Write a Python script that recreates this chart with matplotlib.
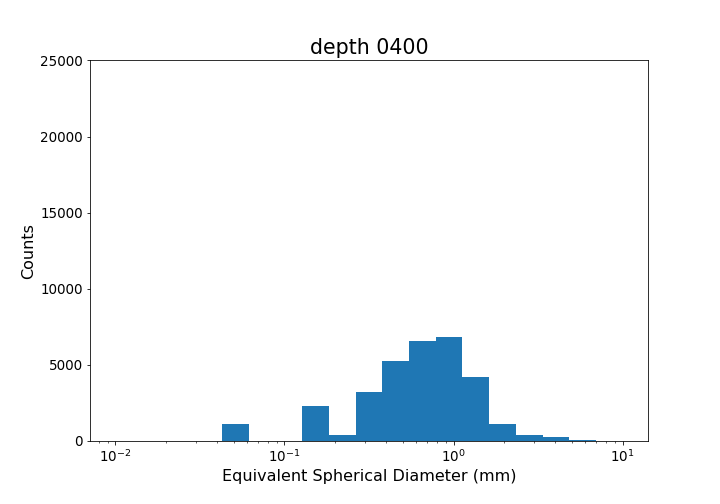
import numpy as np
import matplotlib
matplotlib.use("Agg")
import matplotlib.pyplot as plt

# log-spaced bin edges (19 bins from 1e-2 to 1e1)
bin_edges = np.logspace(-2, 1, 20)
counts = [0, 0, 0, 0, 1110, 0, 0, 2300, 400, 3230, 5250, 6570, 6840, 4200,
          1110, 400, 260, 70, 10]

fig = plt.figure(figsize=(10, 7), dpi=72)
ax = fig.add_subplot(111)
fig.subplots_adjust(left=0.125, right=0.9, top=0.88, bottom=0.125)

ax.hist(bin_edges[:-1], bins=bin_edges, weights=counts, color="#1f77b4")
ax.set_xscale("log")
ax.set_ylim(0, 25000)
ax.set_title("depth 0400", fontsize=20.5)
ax.set_xlabel("Equivalent Spherical Diameter (mm)", fontsize=16)
ax.set_ylabel("Counts", fontsize=16)
ax.tick_params(labelsize=13.5)

fig.savefig("out.png", dpi=72)
